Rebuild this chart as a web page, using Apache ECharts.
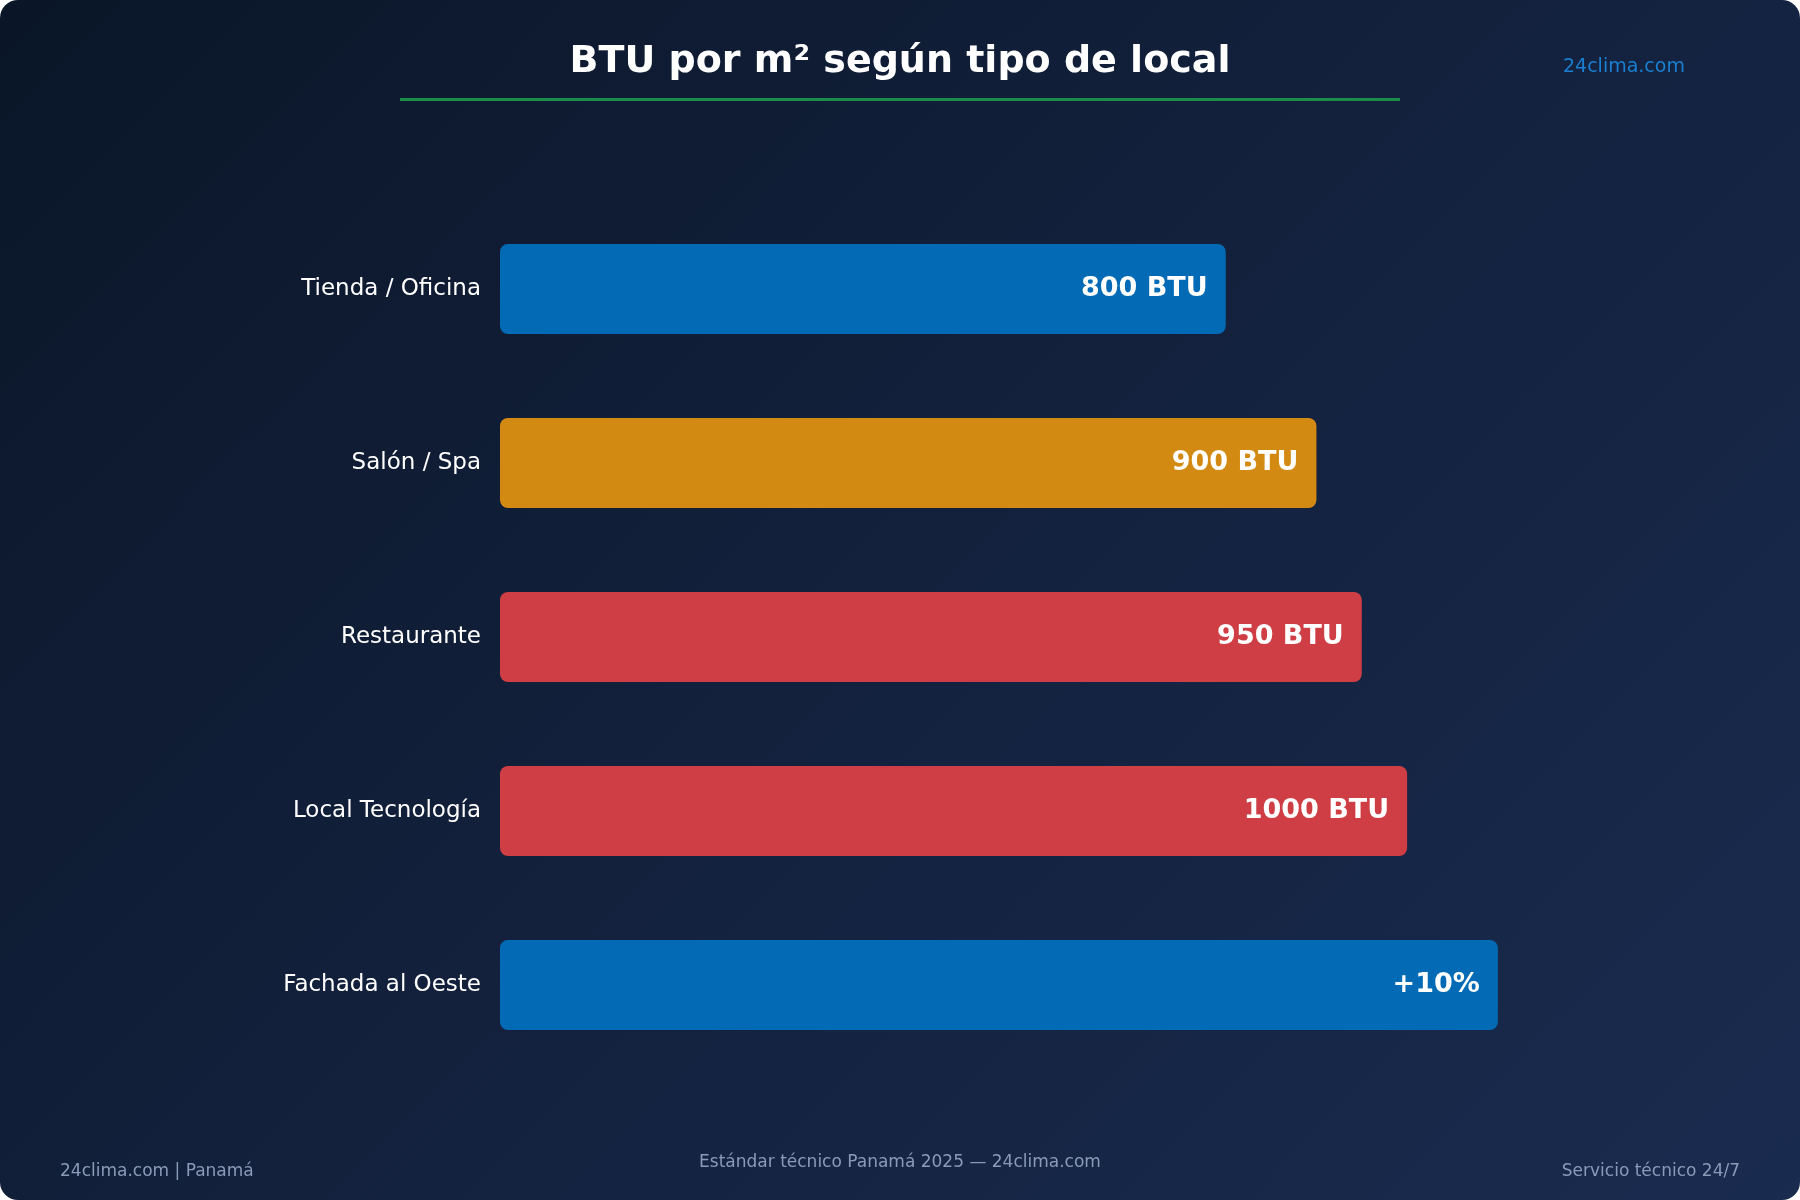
<!DOCTYPE html>
<html>
<head>
<meta charset="utf-8">
<script src="https://cdn.jsdelivr.net/npm/echarts@6/dist/echarts.min.js"></script>
<style>
html,body{margin:0;padding:0;background:#fff;}
#chart{width:1800px;height:1200px;border-radius:18px;overflow:hidden;
background:linear-gradient(135deg,#0a1628 0%,#13213d 50%,#192b4f 100%);}
</style>
</head>
<body>
<div id="chart"></div>
<script>
var categories = ['Tienda / Oficina', 'Salón / Spa', 'Restaurante', 'Local Tecnología', 'Fachada al Oeste'];
var values = [800, 900, 950, 1000, 1100];
var labels = ['800 BTU', '900 BTU', '950 BTU', '1000 BTU', '+10%'];
var colors = ['#036bb5', '#d38a12', '#cf3e44', '#cf3e44', '#036bb5'];

var font = 'DejaVu Sans';
var chart = echarts.init(document.getElementById('chart'));
var option = {
    backgroundColor: 'transparent',
    textStyle: { fontFamily: font },
    title: {
        text: 'BTU por m² según tipo de local',
        left: 'center', top: 38,
        textStyle: { color: '#ffffff', fontSize: 38, fontWeight: 'bold', fontFamily: font }
    },
    grid: { left: 500, right: 30, top: 202, bottom: 128 },
    xAxis: { type: 'value', min: 0, max: 1400, show: false },
    yAxis: {
        type: 'category', inverse: true, data: categories,
        axisLine: { show: false }, axisTick: { show: false },
        axisLabel: { color: '#ffffff', fontSize: 23, margin: 19, fontFamily: font }
    },
    series: [{
        type: 'bar',
        barWidth: 90,
        data: values.map(function (v, i) {
            return { value: v, itemStyle: { color: colors[i], borderRadius: 8 } };
        }),
        label: {
            show: true, position: 'insideRight', distance: 18,
            color: '#ffffff', fontSize: 27, fontWeight: 'bold', fontFamily: font,
            formatter: function (p) { return labels[p.dataIndex]; }
        }
    }],
    graphic: [
        { type: 'rect', shape: { x: 400, y: 98, width: 1000, height: 3 }, style: { fill: '#1c8c4a' } },
        { type: 'text', left: 1563, top: 58, style: { text: '24clima.com', fill: '#1a7fd0', fontSize: 19, fontFamily: font } },
        { type: 'text', left: 60, top: 1163, style: { text: '24clima.com | Panamá', fill: '#8a9bb8', fontSize: 17, fontFamily: font } },
        { type: 'text', left: 'center', top: 1154, style: { text: 'Estándar técnico Panamá 2025 — 24clima.com', fill: '#8a9bb8', fontSize: 17, fontFamily: font } },
        { type: 'text', right: 60, top: 1163, style: { text: 'Servicio técnico 24/7', fill: '#8a9bb8', fontSize: 17, fontFamily: font } }
    ]
};
chart.setOption(option);
</script>
</body>
</html>
